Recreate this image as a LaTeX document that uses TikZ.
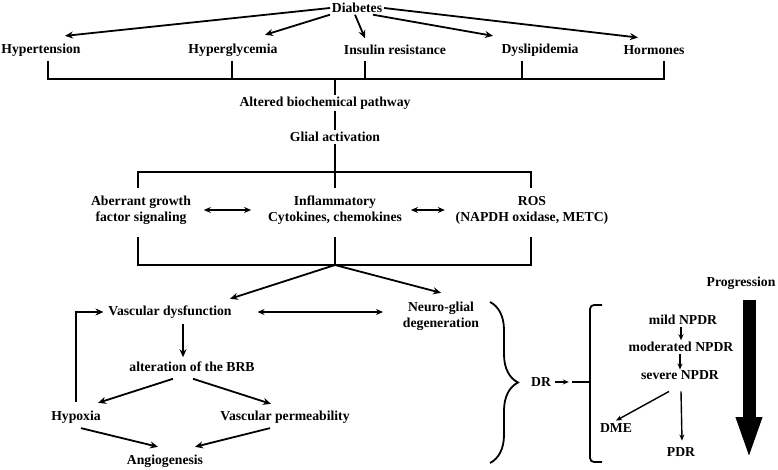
\documentclass[tikz,border=0pt]{standalone}
\usepackage{fontspec}
\setmainfont{Liberation Serif}
\usetikzlibrary{arrows.meta,decorations.pathreplacing}

\begin{document}
\begin{tikzpicture}[x=1pt, y=-1pt, line width=1.8pt,
    every node/.style={font=\fontsize{13.7}{16}\selectfont\bfseries, inner sep=1pt, align=center},
    arr/.style={-{Stealth[length=8pt,width=7pt]}},
    dbl/.style={{Stealth[length=7pt,width=6pt]}-{Stealth[length=7pt,width=6pt]}},
    thinarr/.style={-{Stealth[length=6pt,width=5pt]}, line width=1.4pt}]
    \useasboundingbox (0,0) rectangle (778,470);

    % causes
    \node (diab) at (357,8) {Diabetes};
    \node (hyper) at (41,50) {Hypertension};
    \node (glyc) at (233,50) {Hyperglycemia};
    \node (ins) at (395,50) {Insulin resistance};
    \node (dysl) at (540,50) {Dyslipidemia};
    \node (horm) at (654,50) {Hormones};

    \draw[arr] (diab.west) -- ([xshift=24pt,yshift=6pt]hyper.north);
    \draw[arr] (diab.south west) -- ([xshift=32pt,yshift=7pt]glyc.north);
    \draw[arr] ([xshift=-2pt]diab.south) -- ([xshift=-30pt,yshift=5pt]ins.north);
    \draw[arr] ([xshift=16pt]diab.south) -- ([xshift=-47pt,yshift=6pt]dysl.north);
    \draw[arr] (diab.east) -- ([xshift=-16pt,yshift=6pt]horm.north);

    \coordinate (T1) at (48,61);
    \coordinate (T2) at (232,61);
    \coordinate (T3) at (365,61);
    \coordinate (T4) at (522,61);
    \coordinate (T5) at (664,61);
    \coordinate (B1) at (335,79);

    \draw (T1) -- ++(0,18) -| (T5); % upper bus
    \foreach \t in {T2,T3,T4} \draw (\t) -- ++(0,18);

    \node (abp) at (325,103) {Altered biochemical pathway};
    \node (glial) at (335,137) {Glial activation};

    \draw (B1) -- (B1 |- abp.north);
    \draw (abp.south -| glial) -- (glial.north);

    % middle box
    \node (agf) at (141,210) {Aberrant growth\\factor signaling};
    \node (infl) at (335,210) {Inflammatory\\Cytokines, chemokines};
    \node (ros) at (532,210) {ROS\\(NAPDH oxidase, METC)};

    \coordinate (B2) at (335,265);
    \draw (glial.south) -- (335,188);
    \draw (138,188) |- (531,172) -- (531,188); % top
    \draw (138,237) |- (531,265) -- (531,237); % bottom
    \draw (335,237) -- (B2);

    \draw[dbl, shorten <=11pt, shorten >=15pt] (agf.east) -- (agf.east -| infl.west);
    \draw[dbl, shorten <=7pt, shorten >=9pt] (infl.east) -- (infl.east -| ros.west);

    % lower part
    \node (vasc) at (170,312) {Vascular dysfunction};
    \node (neuro) at (441,316) {Neuro-glial\\degeneration};
    \node (brb) at (192,367) {alteration of the BRB};
    \node (hypox) at (76,417) {Hypoxia};
    \node (perm) at (285,417) {Vascular permeability};
    \node (angio) at (165,461) {Angiogenesis};

    \draw[arr] (B2) -- ([xshift=60pt,yshift=5pt]vasc.north);
    \draw[arr] (B2) -- ([yshift=7pt]neuro.north);
    \draw[dbl, shorten <=24pt, shorten >=18pt] (vasc.east) -- (vasc.east -| neuro.west);
    \draw[arr] ([xshift=13pt,yshift=-4pt]vasc.south) -- ([xshift=-9pt,yshift=3pt]brb.north);
    \draw[arr] ([xshift=-19pt,yshift=-5pt]brb.south) -- ([xshift=22pt,yshift=6pt]hypox.north);
    \draw[arr] ([xshift=1pt,yshift=-5pt]brb.south) -- ([xshift=-14pt,yshift=5pt]perm.north);
    \draw[arr] ([xshift=5pt,yshift=-3pt]hypox.south) -- ([xshift=-7pt,yshift=6pt]angio.north);
    \draw[arr] ([xshift=-15pt,yshift=-3pt]perm.south) -- ([xshift=30pt,yshift=6pt]angio.north);
    \draw[arr] ([yshift=7pt]hypox.north) |- ([xshift=-3pt]vasc.west); % feedback

    % DR and stages
    \draw[decorate, decoration={brace, amplitude=28pt}] (490,302) -- (490,463);
    \node (dr) at (541,382) {DR};
    \draw[thinarr, line width=1.8pt] ([xshift=2pt]dr.east) -- ++(14,0);
    \draw[rounded corners=4pt] (602,305) -- (590,305) -- (590,462) -- (602,462);
    \draw (572,382) -- (590,382);

    \node (mild) at (683,320) {mild NPDR};
    \node (mod) at (681,347) {moderated NPDR};
    \node (sev) at (680,375) {severe NPDR};
    \node (dme) at (616,428) {DME};
    \node (pdr) at (681,452) {PDR};

    \draw[thinarr] (mod.north |- mild.south) -- (mod.north);
    \draw[thinarr] (mod.south -| sev.north) -- ([yshift=-1pt]sev.north);
    \draw[thinarr] ([xshift=-11pt,yshift=-10pt]sev.south) -- ([yshift=1pt]dme.north);
    \draw[thinarr] ([xshift=1pt,yshift=-10pt]sev.south) -- ([xshift=1pt,yshift=5pt]pdr.north);

    \node (prog) at (741,283) {Progression};
    \draw[line width=13pt, -{Triangle[length=43pt,width=23pt]}] ([xshift=8pt,yshift=-9pt]prog.south) -- ++(0,160);
\end{tikzpicture}
\end{document}
